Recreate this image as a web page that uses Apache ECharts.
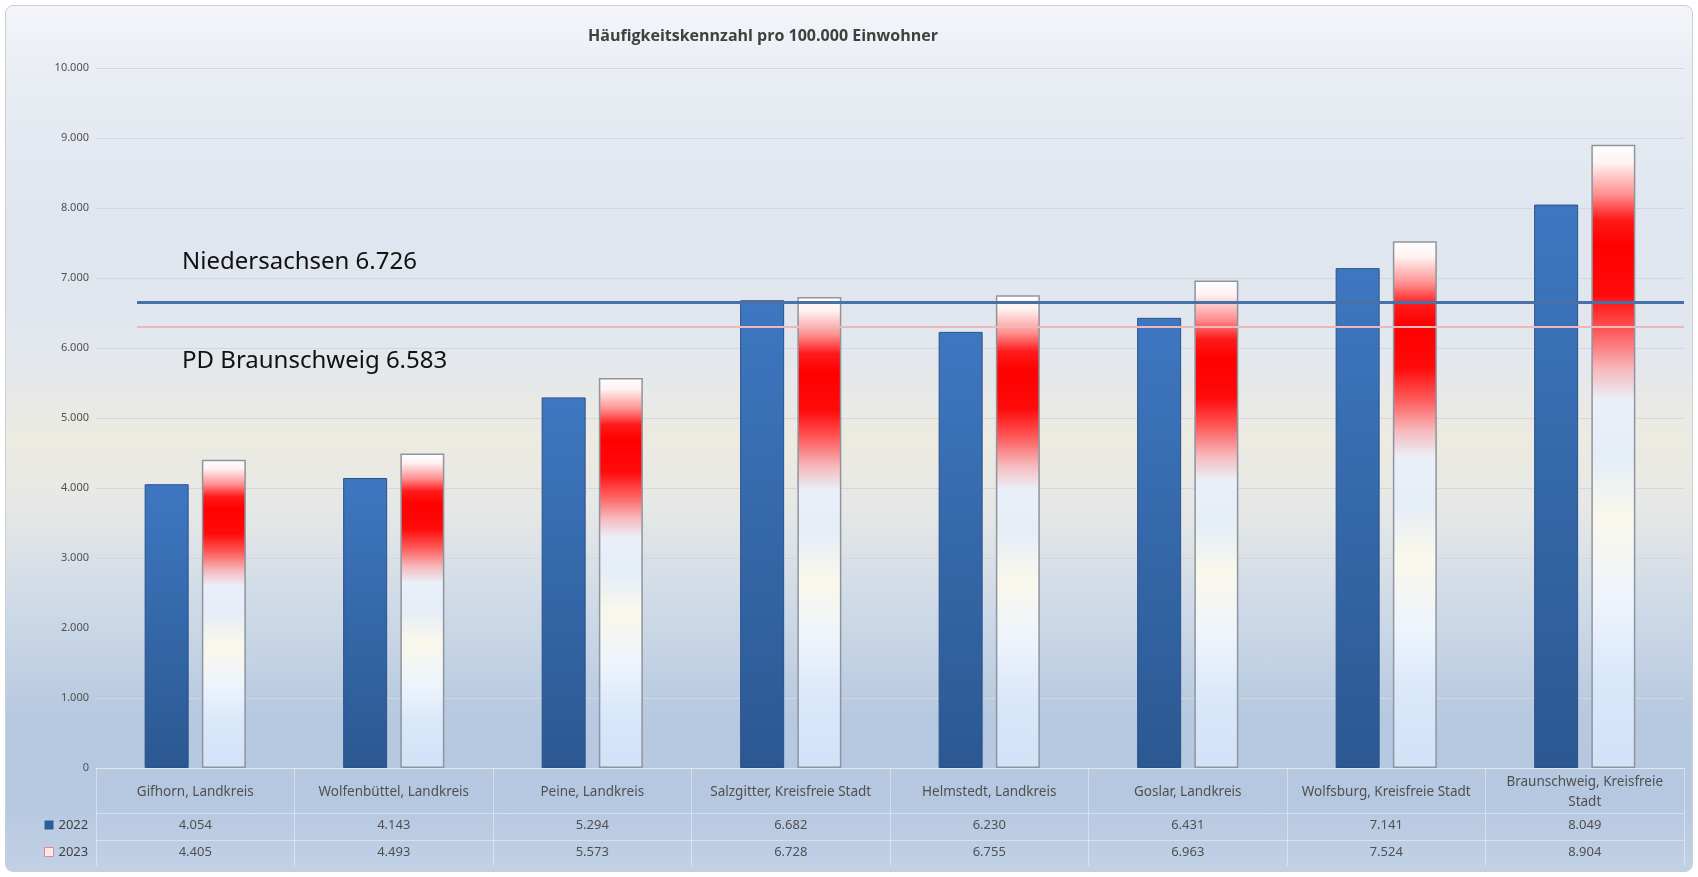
<!DOCTYPE html>
<html>
<head>
<meta charset="utf-8">
<script src="https://cdn.jsdelivr.net/npm/echarts@6/dist/echarts.min.js"></script>
<style>
  html, body { margin: 0; padding: 0; background: #ffffff; }
  #frame {
    position: absolute; left: 5px; top: 5px; width: 1686px; height: 865px;
    border: 1px solid #c9ced6; border-radius: 8px;
    background: linear-gradient(to bottom,
      #f3f5f9 0%, #e9edf4 8%, #dfe6ef 25%, #e3e7ee 40%, #ecebe1 50%,
      #e6e8e6 58%, #cdd9e7 70%, #b7c9e0 82%, #b6c8e0 92%, #c1d1e6 100%);
  }
  #chart { position: absolute; left: 0; top: 0; width: 1698px; height: 877px; }
</style>
</head>
<body>
<div id="frame"></div>
<div id="chart"></div>
<script>
// ---- data ----
const titleText = 'Häufigkeitskennzahl pro 100.000 Einwohner';
const categories = [
  'Gifhorn, Landkreis',
  'Wolfenbüttel, Landkreis',
  'Peine, Landkreis',
  'Salzgitter, Kreisfreie Stadt',
  'Helmstedt, Landkreis',
  'Goslar, Landkreis',
  'Wolfsburg, Kreisfreie Stadt',
  'Braunschweig, Kreisfreie Stadt'
];
const seriesNames = ['2022', '2023'];
const values2022 = [4054, 4143, 5294, 6682, 6230, 6431, 7141, 8049];
const values2023 = [4405, 4493, 5573, 6728, 6755, 6963, 7524, 8904];
const yMin = 0, yMax = 10000, yInterval = 1000;
const refLineValues = [6660, 6300];
const refLineLabels = ['Niedersachsen 6.726', 'PD Braunschweig 6.583'];

// ---- helpers ----
const fmt = v => String(v).replace(/\B(?=(\d{3})+(?!\d))/g, '.');
const textFont = '"Noto Sans", "Open Sans", sans-serif';

const titleFontSize = 16;
const cv = document.createElement('canvas').getContext('2d');
cv.font = 'bold ' + titleFontSize + 'px "Open Sans"';
const titleW = cv.measureText(titleText).width;

const grad2022 = new echarts.graphic.LinearGradient(0, 0, 0, 1, [
  { offset: 0, color: '#3e77c1' },
  { offset: 1, color: '#2b5891' }
]);
const grad2023 = new echarts.graphic.LinearGradient(0, 0, 0, 1, [
  { offset: 0, color: '#ffffff' },
  { offset: 0.03, color: '#fff1f1' },
  { offset: 0.08, color: '#ff8f8f' },
  { offset: 0.12, color: '#ff1a1a' },
  { offset: 0.16, color: '#ff0000' },
  { offset: 0.24, color: '#ff0a0a' },
  { offset: 0.3, color: '#ff5a5a' },
  { offset: 0.36, color: '#f6b9bd' },
  { offset: 0.41, color: '#eaf0f9' },
  { offset: 0.5, color: '#e5edf7' },
  { offset: 0.6, color: '#faf8ec' },
  { offset: 0.73, color: '#eef4fc' },
  { offset: 0.86, color: '#d9e7fa' },
  { offset: 1, color: '#d2e2f7' }
]);

const tableLine = 'rgba(255,255,255,0.4)';
const labelColor = '#505050';

const chart = echarts.init(document.getElementById('chart'), null, { renderer: 'canvas' });
chart.setOption({
  backgroundColor: 'transparent',
  animation: false,
  title: {
    text: titleText,
    left: Math.round(763 - titleW / 2),
    top: 28,
    padding: 0,
    textStyle: { fontFamily: '"Open Sans", sans-serif', fontWeight: 'bold', fontSize: titleFontSize, color: '#404040' }
  },
  legend: {
    orient: 'vertical',
    left: 44,
    top: 817,
    itemWidth: 9,
    itemHeight: 9,
    itemGap: 11,
    padding: 0,
    selectedMode: false,
    textStyle: { fontFamily: textFont, fontSize: 13, color: '#404040', lineHeight: 16 },
    data: [
      { name: seriesNames[0], icon: 'rect', itemStyle: { color: '#2e5c99', borderWidth: 0 } },
      { name: seriesNames[1], icon: 'rect', itemStyle: { color: '#fbe9ea', borderColor: '#e08a8a', borderWidth: 1 } }
    ]
  },
  grid: { left: 96, right: 14, top: 68, bottom: 109, containLabel: false },
  xAxis: [
    {
      type: 'category',
      data: categories,
      position: 'bottom',
      axisLine: { show: true, lineStyle: { color: tableLine, width: 1 } },
      axisTick: { show: true, length: 98, lineStyle: { color: tableLine, width: 1 } },
      axisLabel: {
        interval: 0, margin: 24, verticalAlign: 'middle', fontFamily: textFont,
        fontSize: 13.5, lineHeight: 20, color: labelColor,
        formatter: v => v.length > 28 ? v.replace(/ (\S+)$/, '\n$1') : v
      }
    },
    {
      type: 'category',
      data: values2022.map(fmt),
      position: 'bottom',
      offset: 45,
      axisLine: { show: true, lineStyle: { color: tableLine, width: 1 } },
      axisTick: { show: false },
      axisLabel: { interval: 0, margin: 12, verticalAlign: 'middle', fontFamily: textFont, fontSize: 13, color: labelColor }
    },
    {
      type: 'category',
      data: values2023.map(fmt),
      position: 'bottom',
      offset: 72,
      axisLine: { show: true, lineStyle: { color: tableLine, width: 1 } },
      axisTick: { show: false },
      axisLabel: { interval: 0, margin: 12, verticalAlign: 'middle', fontFamily: textFont, fontSize: 13, color: labelColor }
    }
  ],
  yAxis: {
    type: 'value',
    min: yMin, max: yMax, interval: yInterval,
    axisLine: { show: false },
    axisTick: { show: false },
    splitLine: { show: true, lineStyle: { color: '#d3d8e0', width: 1 } },
    axisLabel: { margin: 7, fontFamily: textFont, fontSize: 11, color: labelColor, formatter: v => fmt(v) }
  },
  series: [
    {
      name: seriesNames[0],
      type: 'bar',
      xAxisIndex: 0,
      data: values2022,
      barWidth: 44,
      barGap: '30%',
      itemStyle: { color: grad2022, borderColor: '#2a5288', borderWidth: 1 },
      markLine: {
        silent: true,
        symbol: 'none',
        data: refLineValues.map((v, i) => [
          {
            name: refLineLabels[i],
            yAxis: v,
            x: 137,
            lineStyle: i === 0
              ? { color: '#4a70a8', width: 3, type: 'solid' }
              : { color: '#e9b9bb', width: 2, type: 'solid' },
            label: {
              show: true,
              formatter: '{b}',
              position: i === 0 ? 'insideStartTop' : 'insideStartBottom',
              distance: 5,
              padding: i === 0 ? [0, 0, 20, 40] : [14, 0, 0, 40],
              fontFamily: textFont,
              fontSize: 24,
              lineHeight: 30,
              color: '#111111'
            }
          },
          { yAxis: v, x: 1684 }
        ])
      }
    },
    {
      name: seriesNames[1],
      type: 'bar',
      xAxisIndex: 0,
      data: values2023,
      barWidth: 44,
      barGap: '30%',
      itemStyle: { color: grad2023, borderColor: '#8f959e', borderWidth: 1.5 }
    }
  ]
});
</script>
</body>
</html>
